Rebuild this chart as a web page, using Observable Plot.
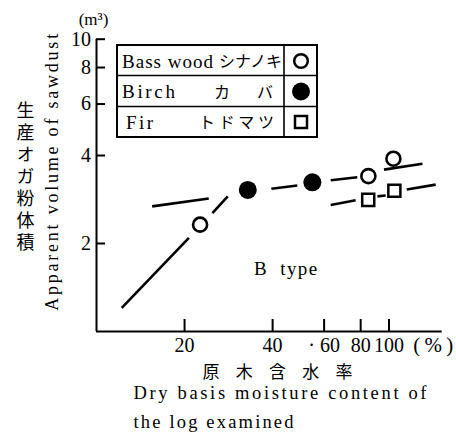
<!DOCTYPE html>
<html>
<head>
<meta charset="utf-8">
<script src="https://cdn.jsdelivr.net/npm/d3@7"></script>
<script src="https://cdn.jsdelivr.net/npm/@observablehq/plot@0.6"></script>
<style>
  body { margin: 0; background: #fff; }
  #chart { width: 456px; height: 435px; }
</style>
</head>
<body>
<div id="chart"></div>
<script>
// ---- data ----
const xTicks = [20, 40, 60, 80, 100];
const xTickLabels = ["20", "40", "· 60", "80", "100"];
const yTicks = [2, 4, 6, 8, 10];
const yTickLabels = ["2", "4", "6", "8", "10"];

const speciesEn = ["Bass wood", "Birch", "Fir"];
const speciesJa = ["シナノキ", "カ　バ", "トドマツ"];

// Bass wood (open circles)
const bassX = [22.6, 85.0, 103.5];
const bassY = [2.32, 3.40, 3.90];
// Birch (filled circles)
const birchX = [32.9, 54.7];
const birchY = [3.05, 3.24];
// Fir (open squares)
const firX = [84.9, 104.3];
const firY = [2.82, 3.03];

// drawn trend-line pieces (x1, y1) -> (x2, y2)
const segX1 = [15.5, 39.6, 63.2, 96.1, 63.2, 91.3, 115.0, 12.2, 24.9];
const segY1 = [2.68, 3.08, 3.29, 3.58, 2.71, 2.90, 3.06, 1.205, 2.54];
const segX2 = [24.2, 48.6, 77.9, 130.1, 76.9, 97.4, 144.4, 20.7, 28.1];
const segY2 = [2.85, 3.16, 3.37, 3.75, 2.81, 2.92, 3.18, 2.09, 2.90];

// ---- build tables ----
const bass = bassX.map((x, i) => ({x, y: bassY[i]}));
const birch = birchX.map((x, i) => ({x, y: birchY[i]}));
const fir = firX.map((x, i) => ({x, y: firY[i]}));
const segs = segX1.map((x1, i) => ({x1, y1: segY1[i], x2: segX2[i], y2: segY2[i]}));

const serif = "'Liberation Serif', 'DejaVu Serif', serif";
const cjk = "'Noto Sans CJK JP', sans-serif";
const yTitleJa = "生産オガ粉体積";

// scale geometry (pixels per decade) used only to size inward tick marks
const xDomain = [10, 152], yDomain = [1, 10];
const mTop = 38.7, mLeft = 96, mRight = 14.3, mBottom = 104;
const H = 435, W = 456;
const pxPerDecadeY = H - mTop - mBottom;
const pxPerDecadeX = (W - mLeft - mRight) / Math.log10(xDomain[1] / xDomain[0]);
const xTickLen = 12, yTickLen = 9;

const chart = Plot.plot({
  width: W,
  height: H,
  marginTop: mTop,
  marginLeft: mLeft,
  marginRight: mRight,
  marginBottom: mBottom,
  x: {type: "log", domain: xDomain, axis: null},
  y: {type: "log", domain: yDomain, axis: null},
  style: {fontFamily: serif, fontSize: "19px", background: "white", color: "black"},
  marks: [
    // inward tick marks
    Plot.ruleX(xTicks, {x: d => d, y1: yDomain[0], y2: yDomain[0] * 10 ** (xTickLen / pxPerDecadeY), strokeWidth: 2}),
    Plot.ruleY(yTicks, {y: d => d, x1: xDomain[0], x2: xDomain[0] * 10 ** (yTickLen / pxPerDecadeX), strokeWidth: 2}),
    // tick labels
    Plot.text(xTicks, {x: d => d, text: (d, i) => xTickLabels[i], frameAnchor: "bottom",
      textAnchor: "middle", lineAnchor: "middle", dy: 14, fontSize: 20, fontFamily: serif}),
    Plot.text(yTicks, {y: d => d, text: (d, i) => yTickLabels[i], frameAnchor: "left",
      textAnchor: "end", lineAnchor: "middle", dx: -5.5, fontSize: 20, fontFamily: serif}),
    // axis lines
    Plot.ruleX([xDomain[0]], {strokeWidth: 2}),
    Plot.ruleY([yDomain[0]], {strokeWidth: 2}),
    // data
    Plot.link(segs, {x1: "x1", y1: "y1", x2: "x2", y2: "y2", stroke: "black", strokeWidth: 2.6}),
    Plot.dot(bass, {x: "x", y: "y", r: 7, stroke: "black", strokeWidth: 2.6, fill: "white"}),
    Plot.dot(birch, {x: "x", y: "y", r: 9, fill: "black", stroke: "none"}),
    Plot.dot(fir, {x: "x", y: "y", r: 6.8, symbol: "square", stroke: "black", strokeWidth: 2.5, fill: "white"}),
    // annotations
    Plot.text(["B\u00a0\u00a0type"], {x: 44.3, y: 1.631, fontSize: 19, fontFamily: serif, textAnchor: "middle", lineAnchor: "middle"}),
    Plot.text(["(m³)"], {frameAnchor: "top-left", textAnchor: "middle", lineAnchor: "middle", dx: -3, dy: -20, fontSize: 17, fontFamily: serif}),
    Plot.text(["(%)"], {frameAnchor: "bottom-right", textAnchor: "middle", lineAnchor: "middle", dx: -9, dy: 14, fontSize: 21, fontFamily: serif}),
    Plot.text(["Apparent volume of sawdust"], {frameAnchor: "left", textAnchor: "middle", lineAnchor: "middle",
      rotate: -90, dx: -44, dy: -13, fontSize: 18, fontFamily: serif}),
    Plot.text([yTitleJa], {frameAnchor: "left", textAnchor: "middle", lineAnchor: "middle",
      dx: -71, dy: -15, fontSize: 18, fontFamily: cjk}),
    Plot.text(["原　木　含　水　率"], {frameAnchor: "bottom-left", textAnchor: "middle", lineAnchor: "middle",
      dx: 181, dy: 41, fontSize: 17, fontFamily: cjk}),
    Plot.text(["Dry basis moisture content of"], {frameAnchor: "bottom-left", textAnchor: "start", lineAnchor: "middle",
      dx: 37, dy: 61.5, fontSize: 18.5, fontFamily: serif}),
    Plot.text(["the log examined"], {frameAnchor: "bottom-left", textAnchor: "start", lineAnchor: "middle",
      dx: 37, dy: 91, fontSize: 18.5, fontFamily: serif})
  ]
});

// stretch letter spacing to match the printed text widths
const fits = {
  "Dry basis moisture content of": 293,
  "the log examined": 160,
  "Apparent volume of sawdust": 277,
  "原　木　含　水　率": 150,
  "B\u00a0\u00a0type": 63,
  "(%)": 40,
  [yTitleJa]: 150
};
d3.select(chart).selectAll("text").each(function() {
  const t = this.textContent;
  if (fits[t] && !this.querySelector("tspan")) {
    this.setAttribute("textLength", fits[t]);
    this.setAttribute("lengthAdjust", "spacing");
  }
  if (t === yTitleJa) {
    // vertical (tategaki) setting of the Japanese axis title
    this.removeAttribute("dy");
    this.style.writingMode = "vertical-rl";
    this.style.textOrientation = "upright";
  }
});

// legend table
const svg = d3.select(chart);
const lg = svg.append("g").attr("fill", "none").attr("stroke", "black");
lg.append("rect").attr("x", 117).attr("y", 45).attr("width", 200).attr("height", 92).attr("stroke-width", 2);
lg.append("line").attr("x1", 117).attr("x2", 317).attr("y1", 75.5).attr("y2", 75.5).attr("stroke-width", 1.6);
lg.append("line").attr("x1", 117).attr("x2", 317).attr("y1", 106.5).attr("y2", 106.5).attr("stroke-width", 1.6);
lg.append("line").attr("x1", 284).attr("x2", 284).attr("y1", 45).attr("y2", 137).attr("stroke-width", 1.6);
const rowY = [61, 91.5, 122];
const enX = [122, 122, 126];
const enLen = [91, 53, 27];
const jaX = [219, 214, 199];
const jaLen = [63, 59, 75];
const tg = svg.append("g").attr("text-anchor", "start").attr("fill", "black");
speciesEn.forEach((name, i) => {
  tg.append("text").attr("x", enX[i]).attr("y", rowY[i] + 6.5)
    .attr("font-family", serif).attr("font-size", 19)
    .attr("textLength", enLen[i]).attr("lengthAdjust", "spacing").text(name);
  tg.append("text").attr("x", jaX[i]).attr("y", rowY[i] + 6)
    .attr("font-family", cjk).attr("font-size", 16)
    .attr("textLength", jaLen[i]).attr("lengthAdjust", "spacing").text(speciesJa[i]);
});
lg.append("circle").attr("cx", 301).attr("cy", rowY[0]).attr("r", 6.8).attr("stroke-width", 2.5).attr("fill", "white");
lg.append("circle").attr("cx", 301).attr("cy", rowY[1]).attr("r", 9).attr("fill", "black").attr("stroke", "none");
lg.append("rect").attr("x", 295).attr("y", rowY[2] - 6).attr("width", 12).attr("height", 12).attr("stroke-width", 2.5).attr("fill", "white");

document.getElementById("chart").appendChild(chart);
</script>
</body>
</html>
